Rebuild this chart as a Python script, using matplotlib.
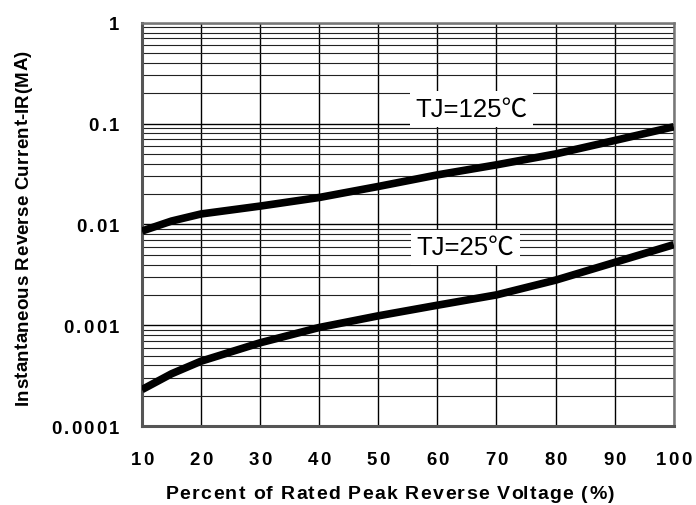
import matplotlib
matplotlib.use("Agg")
import matplotlib.pyplot as plt
from matplotlib.ticker import FixedLocator, NullFormatter
from matplotlib.font_manager import FontProperties
from matplotlib.transforms import IdentityTransform

# ---- data ----
voltage_pct = [10, 15, 20, 30, 40, 50, 60, 70, 80, 90, 100]
ir_125c = [0.0086, 0.0108, 0.0127, 0.0152, 0.0185, 0.0238, 0.031, 0.039, 0.050, 0.068, 0.093]
ir_25c = [0.00023, 0.00033, 0.00044, 0.00067, 0.00095, 0.00124, 0.00158, 0.0020, 0.0028, 0.0042, 0.0063]

x_ticks = [10, 20, 30, 40, 50, 60, 70, 80, 90, 100]
x_tick_labels = ["10", "20", "30", "40", "50", "60", "70", "80", "90", "100"]
y_ticks = [0.0001, 0.001, 0.01, 0.1, 1]
y_tick_labels = ["0.0001", "0.001", "0.01", "0.1", "1"]

X_LABEL = "Percent of Rated Peak Reverse Voltage (%)"
Y_LABEL = "Instantaneous Reverse Current-IR(MA)"

FONT = ["Liberation Sans", "DejaVu Sans"]
LABEL_FONT = ["Liberation Sans", "Noto Sans CJK SC", "DejaVu Sans"]
plt.rcParams["font.family"] = FONT

fig = plt.figure(figsize=(6.96, 5.06), dpi=100)
ax = fig.add_axes([0.204, 0.156, 0.764, 0.797])

ax.set_yscale("log")
ax.set_xlim(10, 100)
ax.set_ylim(0.0001, 1)

# grid: vertical every 10, horizontal on every log minor step
minor = [m * 10.0 ** e for e in range(-4, 0) for m in range(2, 10)]
ax.yaxis.set_minor_locator(FixedLocator(minor))
ax.yaxis.set_minor_formatter(NullFormatter())
ax.set_yticks(y_ticks)
ax.set_xticks(x_ticks)
ax.set_xticklabels([])
ax.set_yticklabels([])
ax.grid(True, which="major", axis="both", color="black", linewidth=1.0)
ax.grid(True, which="minor", axis="y", color="#222222", linewidth=0.8)
ax.set_axisbelow(True)
ax.tick_params(axis="both", which="both", length=0)

ax.plot(voltage_pct, ir_125c, color="black", linewidth=5.5, solid_capstyle="butt", zorder=3)
ax.plot(voltage_pct, ir_25c, color="black", linewidth=5.5, solid_capstyle="butt", zorder=3)

box = dict(facecolor="white", edgecolor="none", pad=4)
ax.text(56.3, 0.119, "TJ=125\u2103", fontsize=18.5, family=LABEL_FONT, va="baseline", ha="left",
        bbox=box, zorder=4)
ax.text(56.5, 0.00507, "TJ=25\u2103", fontsize=18.5, family=LABEL_FONT, va="baseline", ha="left",
        bbox=box, zorder=4)

for side in ["left", "bottom"]:
    ax.spines[side].set_linewidth(2.2)
    ax.spines[side].set_color("#555555")
for side in ["top", "right"]:
    ax.spines[side].set_linewidth(1.8)
    ax.spines[side].set_color("#777777")

renderer = fig.canvas.get_renderer()


def spaced_text(s, pos, baseline, size, gap=None, length=None, ha="center", vertical=False):
    """Bold text with extra letter spacing (pixels), placed in display coords."""
    fp = FontProperties(family=FONT, weight="bold", size=size)
    bar = renderer.get_text_width_height_descent("|", fp, ismath=False)[0]

    def wid(t):
        return renderer.get_text_width_height_descent(t + "|", fp, ismath=False)[0] - bar

    natural = wid(s)
    if gap is None:
        gap = (length - natural) / max(len(s) - 1, 1)
    total = natural + gap * (len(s) - 1)
    start = {"center": pos - total / 2, "left": pos, "right": pos - total}[ha]
    for i, ch in enumerate(s):
        if ch == " ":
            continue
        off = start + wid(s[:i]) + i * gap
        if vertical:
            fig.text(baseline, off, ch, fontproperties=fp, rotation=90, rotation_mode="anchor",
                     ha="left", va="baseline", transform=IdentityTransform())
        else:
            fig.text(off, baseline, ch, fontproperties=fp, ha="left", va="baseline",
                     transform=IdentityTransform())


TICK_SIZE = 13.4
cap = 0.716 * TICK_SIZE * fig.dpi / 72
for v, lab in zip(x_ticks, x_tick_labels):
    px = ax.transData.transform((v, 1e-4))[0]
    spaced_text(lab, px, 41, TICK_SIZE, gap=2.2)
for v, lab in zip(y_ticks, y_tick_labels):
    py = ax.transData.transform((10, v))[1]
    spaced_text(lab, 119, py - cap / 2, TICK_SIZE, gap=2.2, ha="right")

spaced_text(X_LABEL, 390, 7, 14, length=449)
spaced_text(Y_LABEL, 278, 28, 13.5, length=355, vertical=True)

fig.savefig("out.png", dpi=100)
